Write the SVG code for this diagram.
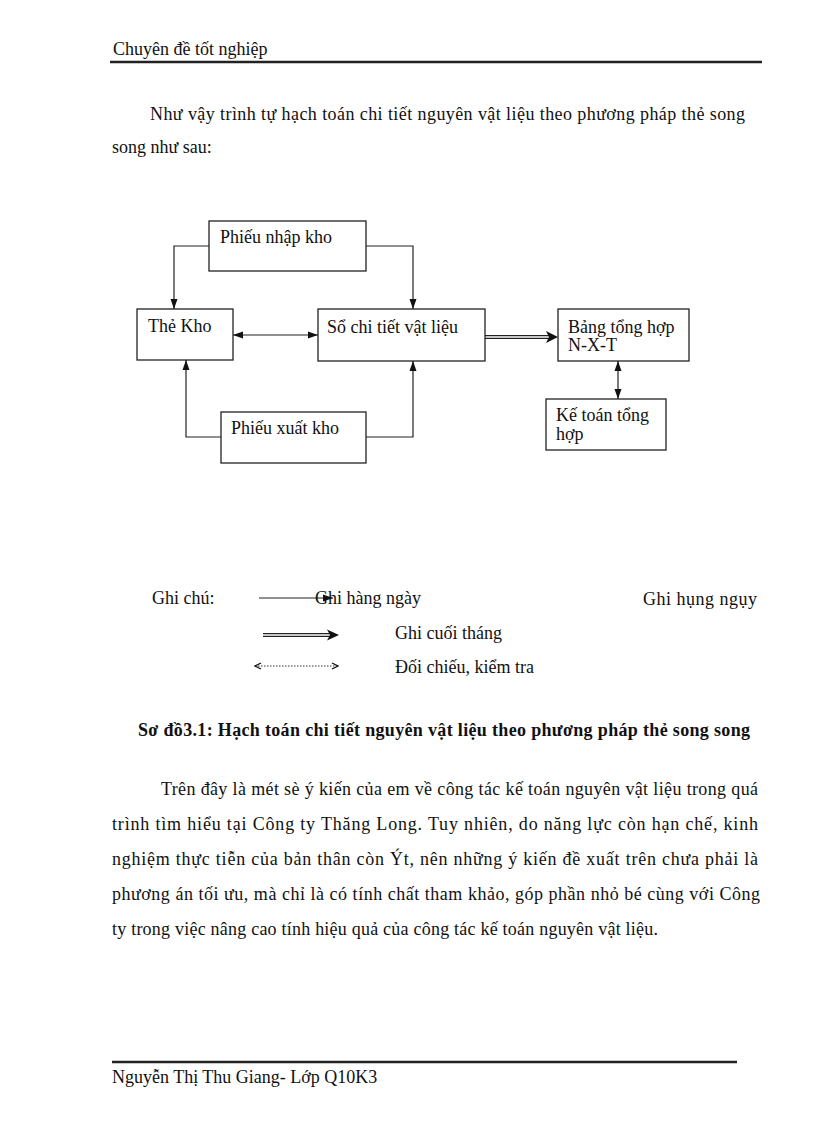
<svg xmlns="http://www.w3.org/2000/svg" width="816" height="1123" viewBox="0 0 816 1123">
<style>
text{font-family:"Liberation Serif","Times New Roman",serif;font-size:18px;fill:#111}
.b{font-weight:bold}
.box{fill:#fff;stroke:#222;stroke-width:1.3}
.ln{fill:none;stroke:#222;stroke-width:1.2}
.rule{stroke:#222;stroke-width:2.5}
</style>
<defs>
<marker id="ah" markerUnits="userSpaceOnUse" markerWidth="10" markerHeight="10" viewBox="0 0 10 10" refX="10" refY="5" orient="auto-start-reverse"><path d="M0,1.5 L10,5 L0,8.5 Z" fill="#111"/></marker>
<marker id="oh" markerUnits="userSpaceOnUse" markerWidth="8" markerHeight="8" viewBox="0 0 8 8" refX="7" refY="4" orient="auto-start-reverse"><path d="M1,1 L7,4 L1,7" fill="none" stroke="#111" stroke-width="1.3"/></marker>
</defs>

<text x="113" y="55">Chuyên  đề tốt nghiệp</text>
<line class="rule" x1="110" y1="62" x2="762" y2="62"/>

<text x="150" y="120" textLength="595" lengthAdjust="spacing">Như vậy trình tự hạch toán chi tiết nguyên vật liệu  theo phương pháp thẻ song</text>
<text x="112" y="153">song như sau:</text>

<g id="connectors">
<polyline class="ln" points="209,246 174,246 174,309" marker-end="url(#ah)"/>
<polyline class="ln" points="366,246 413,246 413,309" marker-end="url(#ah)"/>
<line class="ln" x1="233" y1="335" x2="318" y2="335" marker-start="url(#ah)" marker-end="url(#ah)"/>
<polyline class="ln" points="221,437 186,437 186,360" marker-end="url(#ah)"/>
<polyline class="ln" points="366,437 413,437 413,361" marker-end="url(#ah)"/>
<line class="ln" x1="485" y1="335.6" x2="552" y2="335.6"/>
<line class="ln" x1="485" y1="338.4" x2="552" y2="338.4"/>
<path d="M546,331 L558,337 L546,343 L549,337 Z" fill="#111"/>
<line class="ln" x1="618" y1="361" x2="618" y2="399" marker-start="url(#ah)" marker-end="url(#ah)"/>
</g>

<g id="phieu-nhap-kho"><rect class="box" x="209" y="221" width="157" height="50"/><text x="220" y="243">Phiếu nhập kho</text></g>
<g id="the-kho"><rect class="box" x="137" y="309" width="96" height="51"/><text x="148" y="332">Thẻ Kho</text></g>
<g id="so-chi-tiet"><rect class="box" x="318" y="309" width="167" height="52"/><text x="327" y="333">Sổ chi tiết vật liệu</text></g>
<g id="bang-tong-hop"><rect class="box" x="558" y="309" width="131" height="52"/><text x="568" y="333">Bảng tổng hợp</text><text x="568" y="351">N-X-T</text></g>
<g id="ke-toan-tong-hop"><rect class="box" x="546" y="399" width="120" height="51"/><text x="556" y="421">Kế toán tổng</text><text x="556" y="440">hợp</text></g>
<g id="phieu-xuat-kho"><rect class="box" x="221" y="412" width="145" height="51"/><text x="231" y="434">Phiếu xuất kho</text></g>

<g id="legend">
<text x="152" y="604">Ghi chú:</text>
<line class="ln" x1="259" y1="598" x2="333" y2="598" marker-end="url(#ah)"/>
<text x="315" y="604">Ghi hàng ngày</text>
<text x="643" y="605" textLength="114" lengthAdjust="spacing">Ghi hụng ngụy</text>
<line class="ln" x1="263" y1="633.7" x2="333" y2="633.7"/>
<line class="ln" x1="263" y1="636.3" x2="333" y2="636.3"/>
<path d="M327,629.5 L339,635 L327,640.5 L330,635 Z" fill="#111"/>
<text x="395" y="639">Ghi cuối tháng</text>
<line x1="255" y1="666" x2="338" y2="666" stroke="#333" stroke-width="1" stroke-dasharray="1.5,1.5" marker-start="url(#oh)" marker-end="url(#oh)"/>
<text x="395" y="673">Đối chiếu, kiểm tra</text>
</g>

<text class="b" x="138" y="736" textLength="612" lengthAdjust="spacing">Sơ đồ3.1: Hạch toán chi tiết nguyên vật liệu theo phương pháp thẻ song song</text>

<text x="161" y="795" textLength="597" lengthAdjust="spacing">Trên đây là mét sè ý kiến  của em về công tác kế toán nguyên vật liệu  trong quá</text>
<text x="112" y="830" textLength="646" lengthAdjust="spacing">trình tìm hiểu tại Công ty Thăng Long. Tuy nhiên,  do năng lực còn hạn chế, kinh</text>
<text x="112" y="865" textLength="646" lengthAdjust="spacing">nghiệm thực tiễn của bản thân còn Ýt, nên những ý kiến đề xuất trên chưa phải là</text>
<text x="112" y="900" textLength="648" lengthAdjust="spacing">phương án tối ưu, mà chỉ là  có tính chất tham khảo, góp phần nhỏ bé cùng với Công</text>
<text x="112" y="935" textLength="546" lengthAdjust="spacing">ty trong việc nâng cao tính hiệu quả của công tác kế toán nguyên vật liệu.</text>

<line class="rule" x1="112" y1="1062" x2="737" y2="1062"/>
<text x="112" y="1083">Nguyễn  Thị Thu Giang- Lớp Q10K3</text>
</svg>
